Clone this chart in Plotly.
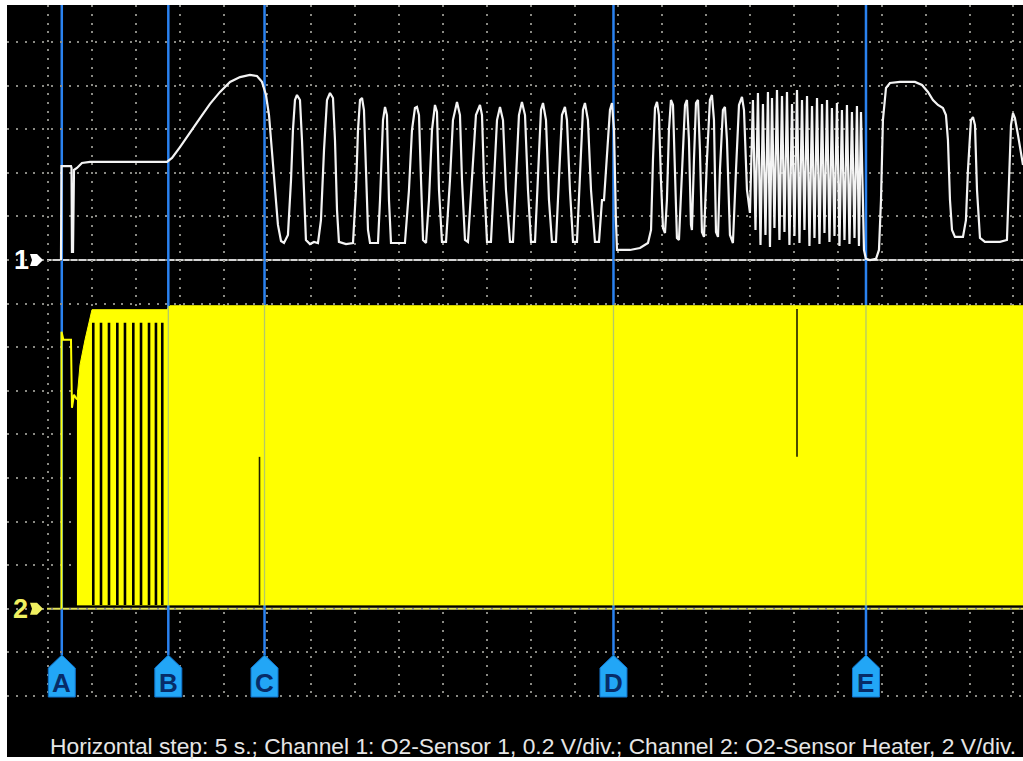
import plotly.graph_objects as go

# ---------------- data (time in s, voltage in V) ----------------
# Channel 1: O2-Sensor 1 signal
white_t = [1.48, 1.54, 2.62, 2.68, 2.73, 2.85, 2.96, 3.30, 3.87, 4.79, 13.56, 14.13, 15.04, 16.18,
           17.32, 18.46, 19.60, 20.74, 21.88, 23.01, 23.81, 24.38, 24.84, 25.18, 25.52, 25.86,
           26.20, 26.55, 26.89, 27.34, 27.69, 27.91, 28.14, 28.37, 28.71, 28.94, 29.17, 29.39,
           29.85, 30.31, 30.76, 31.10, 31.45, 31.79, 32.13, 32.47, 32.70, 32.93, 33.15, 33.95,
           34.75, 35.09, 35.32, 35.55, 35.78, 36.00, 36.23, 36.46, 36.69, 37.60, 37.83, 38.17,
           38.40, 38.62, 38.85, 39.08, 40.67, 41.13, 41.47, 41.81, 42.04, 42.27, 42.50, 42.73,
           43.07, 43.41, 43.75, 44.09, 44.32, 44.55, 44.89, 45.35, 45.80, 46.14, 46.60, 46.94,
           47.17, 47.51, 47.85, 48.31, 48.76, 49.22, 49.45, 49.68, 50.02, 50.47, 50.81, 51.16,
           51.50, 51.84, 52.18, 52.64, 52.98, 53.32, 53.66, 54.00, 54.35, 54.69, 55.03, 55.49,
           55.83, 56.17, 56.40, 56.74, 57.08, 57.42, 57.88, 58.22, 58.56, 58.90, 59.13, 59.47,
           59.82, 60.27, 60.61, 60.95, 61.18, 61.52, 61.87, 62.32, 62.78, 63.12, 63.35, 63.69,
           64.03, 64.26, 64.49, 64.71, 64.83, 66.31, 67.45, 68.36, 68.71, 68.93, 69.16, 69.39,
           69.61, 69.84, 70.07, 70.30, 70.52, 70.75, 70.98, 71.21, 71.44, 71.66, 71.89, 72.23,
           72.58, 72.80, 73.03, 73.26, 73.37, 73.60, 73.83, 74.06, 74.28, 74.51, 74.74, 75.08,
           75.42, 75.65, 75.88, 76.11, 76.34, 76.56, 76.90, 77.13, 77.36, 77.70, 78.04, 78.39,
           78.73, 79.07, 79.30, 79.64, 79.98,
           80.32, 80.61, 80.89, 81.18, 81.46, 81.75, 82.03, 82.26, 82.49, 82.77, 83.06, 83.34,
           83.63, 83.91, 84.20, 84.48, 84.77, 85.05, 85.34, 85.62, 85.91, 86.19, 86.48, 86.76,
           87.05, 87.33, 87.62, 87.90, 88.19, 88.47, 88.76, 89.04, 89.32, 89.61, 89.89, 90.18,
           90.46, 90.75, 91.03, 91.32, 91.60, 91.89, 92.17, 92.40, 92.63, 92.97, 93.19, 93.65,
           94.34, 94.68, 94.91, 95.13, 95.48, 95.93, 97.07, 98.78, 99.58, 100.26, 100.83, 101.40,
           101.97, 102.31, 102.54, 102.77, 103.00, 103.34, 104.25, 104.59, 104.82, 105.16, 105.39,
           105.62, 105.85, 106.19, 106.75, 108.46, 109.26, 109.49, 109.72, 109.95, 110.17, 110.52,
           111.09]
white_v = [0.000, 0.431, 0.431, 0.422, 0.037, 0.037, 0.413, 0.422, 0.445, 0.450, 0.450, 0.468, 0.518, 0.587,
           0.651, 0.716, 0.771, 0.817, 0.839, 0.849, 0.844, 0.817, 0.757, 0.665, 0.505, 0.321,
           0.161, 0.087, 0.078, 0.115, 0.367, 0.596, 0.734, 0.757, 0.734, 0.550, 0.275, 0.092,
           0.073, 0.083, 0.078, 0.183, 0.505, 0.734, 0.766, 0.743, 0.550, 0.229, 0.083, 0.073,
           0.078, 0.321, 0.596, 0.734, 0.743, 0.688, 0.413, 0.138, 0.078, 0.078, 0.275, 0.642,
           0.702, 0.665, 0.275, 0.078, 0.078, 0.321, 0.596, 0.697, 0.702, 0.665, 0.367, 0.092,
           0.078, 0.275, 0.596, 0.711, 0.679, 0.321, 0.083, 0.083, 0.367, 0.642, 0.725, 0.665,
           0.367, 0.092, 0.083, 0.367, 0.665, 0.711, 0.665, 0.367, 0.083, 0.083, 0.367, 0.642,
           0.702, 0.642, 0.321, 0.083, 0.083, 0.367, 0.665, 0.725, 0.665, 0.321, 0.083, 0.083,
           0.413, 0.688, 0.720, 0.642, 0.275, 0.083, 0.083, 0.413, 0.665, 0.702, 0.642, 0.321,
           0.083, 0.083, 0.413, 0.688, 0.720, 0.642, 0.321, 0.083, 0.083, 0.275, 0.275, 0.459,
           0.688, 0.720, 0.596, 0.183, 0.046, 0.046, 0.055, 0.078, 0.138, 0.459, 0.697, 0.725,
           0.665, 0.367, 0.147, 0.124, 0.275, 0.596, 0.734, 0.711, 0.367, 0.101, 0.092, 0.413,
           0.711, 0.734, 0.550, 0.161, 0.138, 0.459, 0.720, 0.734, 0.505, 0.128, 0.106, 0.459,
           0.734, 0.757, 0.642, 0.128, 0.106, 0.413, 0.688, 0.702, 0.550, 0.115, 0.078, 0.413,
           0.711, 0.748, 0.688, 0.321, 0.216,
           0.734, 0.138, 0.766, 0.069, 0.716, 0.115, 0.771, 0.060, 0.743, 0.147, 0.780, 0.092,
           0.752, 0.128, 0.771, 0.069, 0.716, 0.110, 0.780, 0.078, 0.734, 0.138, 0.752, 0.064,
           0.706, 0.101, 0.743, 0.073, 0.716, 0.124, 0.734, 0.083, 0.697, 0.110, 0.720, 0.064,
           0.688, 0.092, 0.711, 0.073, 0.679, 0.101, 0.706, 0.064, 0.679, 0.046, 0.005, 0.000,
           0.005, 0.046, 0.275, 0.642, 0.789, 0.812, 0.817, 0.817, 0.803, 0.771, 0.734, 0.711,
           0.697, 0.665, 0.550, 0.275, 0.138, 0.106, 0.106, 0.183, 0.413, 0.642, 0.656,
           0.619, 0.321, 0.101, 0.083, 0.083, 0.092, 0.367, 0.619, 0.674, 0.651, 0.573,
           0.436]

# Channel 2: O2-Sensor heater (PWM). Start-up trace, then min/max envelope of the fast PWM.
heater_start_t = [1.54, 1.54, 1.75, 2.62, 2.73, 2.96, 3.30]
heater_start_v = [0.0, 12.71, 12.34, 12.34, 9.22, 9.82, 9.60]
heater_env_t = [3.30, 3.65, 4.22, 5.01, 13.56, 13.90, 111.09]
heater_env_hi = [9.60, 11.19, 12.34, 13.72, 13.72, 13.90, 13.90]
heater_env_lo = [0.18, 0.18, 0.18, 0.18, 0.18, 0.18, 0.18]
# visible off-gaps of the slow warm-up PWM (between A and B)
heater_gap_t = [5.16, 6.04, 6.95, 7.90, 8.77, 9.72, 10.60, 11.51, 12.30, 13.02]
heater_gap_lo = 0.18
heater_gap_hi = 13.12
# short dropouts inside the PWM band
dropout_t = [24.10, 85.34]
dropout_lo = [0.18, 6.97]
dropout_hi = [6.97, 13.75]

# cursors
marker_names = ["A", "B", "C", "D", "E"]
marker_t = [1.57, 13.71, 24.67, 64.43, 93.20]

caption = ("Horizontal step: 5 s.; Channel 1: O2-Sensor 1, 0.2 V/div.; "
           "Channel 2: O2-Sensor Heater, 2 V/div.")

# ---------------- layout geometry ----------------
W, H = 1023, 761
ML, MR, MT, MB = 7, 0, 5, 61
PW, PH = W - ML - MR, H - MT - MB
X_RANGE = [-4.671, 111.09]
Y1_RANGE = [-2.0183, 1.1697]          # channel 1 volts (0.2 V/div)
CH2_ZERO = -1.6                       # channel 2 zero on channel-1 scale (8 div lower)
CH2_GAIN = 10.0                       # 2 V/div vs 0.2 V/div
Y2_RANGE = [(v - CH2_ZERO) * CH2_GAIN for v in Y1_RANGE]
TAG_Y = -2.0

YELLOW = "#ffff00"
BLUE = "#2a82f0"

fig = go.Figure()

# heater PWM band
poly_t = heater_env_t + heater_env_t[::-1]
poly_v = heater_env_hi + heater_env_lo[::-1]
fig.add_trace(go.Scatter(x=poly_t, y=poly_v, yaxis="y2", mode="lines", fill="toself",
                         fillcolor=YELLOW, line=dict(color=YELLOW, width=1), hoverinfo="skip"))
fig.add_trace(go.Scatter(x=heater_start_t, y=heater_start_v, yaxis="y2", mode="lines",
                         line=dict(color=YELLOW, width=2), hoverinfo="skip"))
gx, gy = [], []
for t in heater_gap_t:
    gx += [t, t, None]
    gy += [heater_gap_lo, heater_gap_hi, None]
fig.add_trace(go.Scatter(x=gx, y=gy, yaxis="y2", mode="lines",
                         line=dict(color="#000000", width=2.6), hoverinfo="skip"))
dx, dy = [], []
for t, lo, hi in zip(dropout_t, dropout_lo, dropout_hi):
    dx += [t, t, None]
    dy += [lo, hi, None]
fig.add_trace(go.Scatter(x=dx, y=dy, yaxis="y2", mode="lines",
                         line=dict(color="#202000", width=1.6), hoverinfo="skip"))
# cursor lines seen through the yellow band
px, py = [], []
for t in marker_t[1:]:
    px += [t, t, None]
    py += [heater_env_lo[-1], heater_env_hi[-1], None]
fig.add_trace(go.Scatter(x=px, y=py, yaxis="y2", mode="lines",
                         line=dict(color="#b3c868", width=1.3), hoverinfo="skip"))

# O2 sensor signal
fig.add_trace(go.Scatter(x=white_t, y=white_v, mode="lines",
                         line=dict(color="#f4f4f4", width=2.2), hoverinfo="skip"))

shapes = []
# black band under the grid holding the caption
shapes.append(dict(type="rect", xref="paper", yref="paper", x0=0, x1=1,
                   y0=-(757 - (H - MB)) / PH, y1=0, fillcolor="#000000",
                   line=dict(width=0), layer="below"))
# channel baselines
shapes.append(dict(type="line", xref="paper", yref="y", x0=(47 - ML) / PW, x1=1, y0=0, y1=0,
                   line=dict(color="#d2d2d2", width=2), layer="between"))
shapes.append(dict(type="line", xref="paper", yref="y", x0=(47 - ML) / PW, x1=1,
                   y0=CH2_ZERO, y1=CH2_ZERO, line=dict(color="#e2e25a", width=2), layer="between"))
# cursors
apex_frac = (TAG_Y - Y1_RANGE[0]) / (Y1_RANGE[1] - Y1_RANGE[0]) + 41 / PH
for t in marker_t:
    shapes.append(dict(type="line", xref="x", yref="paper", x0=t, x1=t, y0=apex_frac, y1=1,
                       line=dict(color=BLUE, width=2.5), layer="between"))
    shapes.append(dict(type="path", xref="x", yref="y", xsizemode="pixel", ysizemode="pixel",
                       xanchor=t, yanchor=TAG_Y,
                       path="M-13.5,-1 L13.5,-1 L13.5,28 L0,41 L-13.5,28 Z",
                       fillcolor="#22a6f6", line=dict(color="#1173cc", width=1), layer="above"))
# channel arrows
for yv, col in [(0, "#ffffff"), (CH2_ZERO, "#f0f060")]:
    shapes.append(dict(type="path", xref="paper", yref="y", xsizemode="pixel", ysizemode="pixel",
                       xanchor=(30 - ML) / PW, yanchor=yv,
                       path="M0,-6 L7,-6 L13,0 L7,6 L0,6 L2,0 Z",
                       fillcolor=col, line=dict(width=0), layer="above"))

annotations = []
for name, t in zip(marker_names, marker_t):
    annotations.append(dict(x=t, y=TAG_Y, xref="x", yref="y", text="<b>%s</b>" % name,
                            showarrow=False, yshift=13, xanchor="center", yanchor="middle",
                            font=dict(family="Liberation Sans", size=26, color="#072c68")))
annotations.append(dict(x=(21 - ML) / PW, y=0, xref="paper", yref="y", text="<b>1</b>",
                        showarrow=False, xanchor="center", yanchor="middle",
                        font=dict(family="Liberation Sans", size=27, color="#ffffff")))
annotations.append(dict(x=(20.5 - ML) / PW, y=CH2_ZERO, xref="paper", yref="y", text="<b>2</b>",
                        showarrow=False, xanchor="center", yanchor="middle",
                        font=dict(family="Liberation Sans", size=27, color="#f0f060")))
annotations.append(dict(x=(48 - ML) / PW, y=-(746 - (H - MB)) / PH, xref="paper", yref="paper",
                        text=caption, showarrow=False, xanchor="left", yanchor="middle",
                        font=dict(family="Liberation Sans", size=22.8, color="#e6e6e6")))

grid = dict(showgrid=True, gridcolor="#8a8a84", gridwidth=2, griddash="2px,6.8px",
            zeroline=False, showticklabels=False, ticks="", showline=False)
fig.update_layout(
    width=W, height=H, margin=dict(l=ML, r=MR, t=MT, b=MB, pad=0),
    paper_bgcolor="#ffffff", plot_bgcolor="#000000", showlegend=False,
    xaxis=dict(range=X_RANGE, dtick=5, tick0=0, fixedrange=True, **grid),
    yaxis=dict(range=Y1_RANGE, dtick=0.2, tick0=0, fixedrange=True, **grid),
    yaxis2=dict(range=Y2_RANGE, overlaying="y", visible=False, fixedrange=True),
    shapes=shapes, annotations=annotations,
)

fig.write_html("out.html", config={"displayModeBar": False},
               post_script="document.body.style.margin='0';")
